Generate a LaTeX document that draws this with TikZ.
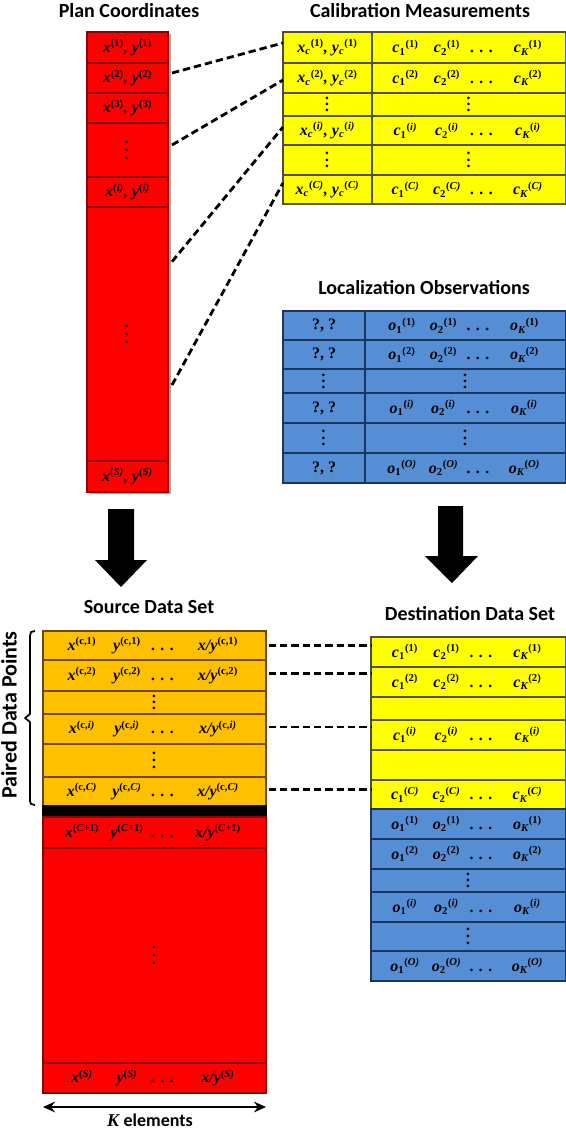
\documentclass[tikz,border=0pt]{standalone}
\usepackage{fontspec}
\setmainfont{Liberation Serif}
\newfontfamily\serfont{Liberation Serif}
\newfontfamily\calfont{Carlito}
\usetikzlibrary{arrows.meta}
\definecolor{redf}{HTML}{FF0000}
\definecolor{redl}{HTML}{8E0000}
\definecolor{yelf}{HTML}{FFFF00}
\definecolor{yell}{HTML}{50502A}
\definecolor{bluf}{HTML}{558ED5}
\definecolor{blul}{HTML}{17375E}
\definecolor{orf}{HTML}{FFC000}
\definecolor{orl}{HTML}{6B4A00}
\newcommand\vx[2]{#1\textsuperscript{\upshape(#2)}}
\newcommand\vsc[3]{#1\textsubscript{\upshape#2}\textsuperscript{\upshape(#3)}}
\newcommand\ddd{.\,\,.\,\,.}
\newcommand\vdt[1]{\vbox{\baselineskip#1\lineskiplimit0pt\hbox{.}\hbox{.}\hbox{.}}}
\newcommand\kvec[2]{\hspace*{5.25pt}\makebox[30.75pt]{\vsc{#1}{1}{#2}}\makebox[31.5pt]{\vsc{#1}{2}{#2}}\makebox[21pt]{\ddd}\makebox[48pt]{\vsc{#1}{\itshape K}{#2}}}
\newcommand\srcvec[1]{\hspace*{8.25pt}\makebox[33pt]{\vx{x}{#1}}\makebox[34.5pt]{\vx{y}{#1}}\makebox[19.5pt]{\ddd}\makebox[63pt]{\vx{x/y}{#1}}}
\tikzset{
  cellbase/.style={rectangle, inner sep=0pt, outer sep=0pt, line width=0.9pt,
    font=\serfont\fontsize{12}{14}\selectfont\bfseries\itshape},
  rcell/.style 2 args={cellbase, minimum width=#1*0.75pt, minimum height=#2*0.75pt, fill=redf, draw=redl},
  ycell/.style 2 args={cellbase, minimum width=#1*0.75pt, minimum height=#2*0.75pt, fill=yelf, draw=yell},
  bcell/.style 2 args={cellbase, minimum width=#1*0.75pt, minimum height=#2*0.75pt, fill=bluf, draw=blul},
  ocell/.style 2 args={cellbase, minimum width=#1*0.75pt, minimum height=#2*0.75pt, fill=orf, draw=orl},
  kcell/.style 2 args={cellbase, minimum width=#1*0.75pt, minimum height=#2*0.75pt, fill=black, draw=black},
  ttl/.style={inner sep=0pt, font=\calfont\bfseries\fontsize{15}{18}\selectfont},
  dashline/.style={line width=2.1pt, dash pattern=on 5.5pt off 3pt},
  bigarrow/.style={fill=black, draw=none},
}
\begin{document}
\begin{tikzpicture}[x=0.75pt, y=-0.75pt]
\useasboundingbox (0,0) rectangle (566,1128);
\fill[white] (0,0) rectangle (566,1128);

% ---------- Plan Coordinates ----------
\node[ttl] (tplan) at (129,11) {Plan Coordinates};
\fill[gray!70] (90,34) rectangle (171,494);
\node[rcell={81}{31}] (p1) at (127.5,47.5) {\vx{x}{1}, \vx{y}{1}};
\node[rcell={81}{30}] (p2) at (127.5,78) {\vx{x}{2}, \vx{y}{2}};
\node[rcell={81}{30}] (p3) at (127.5,108) {\vx{x}{3}, \vx{y}{3}};
\node[rcell={81}{54}] (pd1) at (127.5,150) {\vdt{6pt}};
\node[rcell={81}{30}] (pi) at (127.5,192) {\vx{x}{\itshape i}, \vx{y}{\itshape i}};
\node[rcell={81}{254}] (pd2) at (127.5,334) {\vdt{6pt}};
\node[rcell={81}{31}] (pS) at (127.5,476.5) {\vx{x}{\itshape S}, \vx{y}{\itshape S}};

% ---------- Calibration Measurements ----------
\node[ttl] (tcal) at (420,11) {Calibration Measurements};
\node[ycell={89}{31}] (cl1) at (327.5,47.5) {\vsc{x}{\itshape c}{1}, \vsc{y}{\itshape c}{1}};
\node[ycell={194}{31}] (cr1) at (469,47.5) {\kvec{c}{1}};
\node[ycell={89}{30}] (cl2) at (327.5,78) {\vsc{x}{\itshape c}{2}, \vsc{y}{\itshape c}{2}};
\node[ycell={194}{30}] (cr2) at (469,78) {\kvec{c}{2}};
\node[ycell={89}{23}] (cl3) at (327.5,104.5) {\vdt{4.5pt}};
\node[ycell={194}{23}] (cr3) at (469,104.5) {\vdt{4.5pt}};
\node[ycell={89}{29}] (cl4) at (327.5,130.5) {\vsc{x}{\itshape c}{\itshape i}, \vsc{y}{\itshape c}{\itshape i}};
\node[ycell={194}{29}] (cr4) at (469,130.5) {\kvec{c}{\itshape i}};
\node[ycell={89}{30}] (cl5) at (327.5,160) {\vdt{5pt}};
\node[ycell={194}{30}] (cr5) at (469,160) {\vdt{5pt}};
\node[ycell={89}{29}] (cl6) at (327.5,189.5) {\vsc{x}{\itshape c}{\itshape C}, \vsc{y}{\itshape c}{\itshape C}};
\node[ycell={194}{29}] (cr6) at (469,189.5) {\kvec{c}{\itshape C}};

% ---------- Localization Observations ----------
\node[ttl] (tloc) at (424,288) {Localization Observations};
\node[bcell={82}{29}] (ol1) at (324,325.5) {\upshape ?, ?};
\node[bcell={201}{29}] (or1) at (465.5,325.5) {\kvec{o}{1}};
\node[bcell={82}{29}] (ol2) at (324,354.5) {\upshape ?, ?};
\node[bcell={201}{29}] (or2) at (465.5,354.5) {\kvec{o}{2}};
\node[bcell={82}{24}] (ol3) at (324,381) {\vdt{4.5pt}};
\node[bcell={201}{24}] (or3) at (465.5,381) {\vdt{4.5pt}};
\node[bcell={82}{30}] (ol4) at (324,408) {\upshape ?, ?};
\node[bcell={201}{30}] (or4) at (465.5,408) {\kvec{o}{\itshape i}};
\node[bcell={82}{30}] (ol5) at (324,438) {\vdt{5pt}};
\node[bcell={201}{30}] (or5) at (465.5,438) {\vdt{5pt}};
\node[bcell={82}{30}] (ol6) at (324,468) {\upshape ?, ?};
\node[bcell={201}{30}] (or6) at (465.5,468) {\kvec{o}{\itshape O}};

% ---------- dashed links (top) ----------
\draw[dashline] ([xshift=3pt,yshift=3.75pt]p2.east) -- ([yshift=3.4pt]cl1.west);
\draw[dashline] ([xshift=3pt,yshift=3.75pt]pd1.east) -- ([yshift=-1.5pt]cl2.west);
\draw[dashline] ([xshift=3pt,yshift=-41pt]pd2.north east) -- ([yshift=2.6pt]cl4.west);
\draw[dashline] ([xshift=3pt,yshift=-133.5pt]pd2.north east) -- ([yshift=4.9pt]cl6.west);

% ---------- big arrows ----------
\fill[bigarrow] (108,509) -- (134,509) -- (134,560) -- (147,560) -- (121,587) -- (95,560) -- (108,560) -- cycle;
\fill[bigarrow] (438,506) -- (463,506) -- (463,556) -- (478,556) -- (452,583) -- (425,556) -- (438,556) -- cycle;

% ---------- Source Data Set ----------
\node[ttl] (tsrc) at (149,607) {Source Data Set};
\node[ocell={223}{29}] (s1) at (154.5,645.5) {\srcvec{\upshape c,1}};
\node[ocell={223}{31}] (s2) at (154.5,675.5) {\srcvec{\upshape c,2}};
\node[ocell={223}{23}] (s3) at (154.5,702.5) {\vdt{4.5pt}};
\node[ocell={223}{30}] (s4) at (154.5,729) {\srcvec{\upshape c,\itshape i}};
\node[ocell={223}{33}] (s5) at (154.5,760.5) {\vdt{5.5pt}};
\node[ocell={223}{29}] (s6) at (154.5,791.5) {\srcvec{\upshape c,\itshape C}};
\node[kcell={223}{11}] (sbar) at (154.5,811.5) {};
\node[rcell={223}{31}] (s7) at (154.5,832.5) {\srcvec{\itshape C\upshape+1}};
\node[rcell={223}{215}] (s8) at (154.5,955.5) {\vdt{6pt}};
\node[rcell={223}{30}] (s9) at (154.5,1078) {\srcvec{\itshape S}};

% bracket and label
\draw[line width=1.3pt, line join=round] (35,631) -- (31,632) -- (30,636) -- (30,714) -- (25,718) -- (30,722) -- (30,801) -- (31,804) -- (35,805);
\node[ttl, rotate=90, font=\calfont\bfseries\fontsize{16.5}{19}\selectfont] (tpair) at (9,715) {Paired Data Points};

% K elements
\coordinate (ka) at (43,1107);
\coordinate (kb) at (266,1107);
\draw[line width=1.4pt, {Stealth[length=9pt,width=8pt]}-{Stealth[length=9pt,width=8pt]}] (ka) -- (kb);
\node[inner sep=0pt, anchor=north] (klab) at (150,1114) {\fontsize{13.5}{16}\selectfont\bfseries{\serfont\itshape K}\ \calfont elements};

% ---------- Destination Data Set ----------
\node[ttl] (tdst) at (470,614) {Destination Data Set};
\node[ycell={195}{30}] (d1) at (468.5,652) {\kvec{c}{1}};
\node[ycell={195}{30}] (d2) at (468.5,682) {\kvec{c}{2}};
\node[ycell={195}{23}] (d3) at (468.5,708.5) {};
\node[ycell={195}{30}] (d4) at (468.5,735) {\kvec{c}{\itshape i}};
\node[ycell={195}{30}] (d5) at (468.5,765) {};
\node[ycell={195}{29}] (d6) at (468.5,794.5) {\kvec{c}{\itshape C}};
\node[bcell={195}{30}] (d7) at (468.5,824) {\kvec{o}{1}};
\node[bcell={195}{30}] (d8) at (468.5,854) {\kvec{o}{2}};
\node[bcell={195}{23}] (d9) at (468.5,880.5) {\vdt{4.5pt}};
\node[bcell={195}{30}] (d10) at (468.5,907) {\kvec{o}{\itshape i}};
\node[bcell={195}{29}] (d11) at (468.5,936.5) {\vdt{5pt}};
\node[bcell={195}{30}] (d12) at (468.5,966) {\kvec{o}{\itshape O}};

% ---------- dashed links (bottom) ----------
\draw[dashline] ([xshift=2pt]s1.east) -- (s1.east -| d1.west);
\draw[dashline] ([xshift=2pt,yshift=1.5pt]s2.east) -- ([yshift=1.5pt]s2.east -| d2.west);
\draw[dashline] ([xshift=2pt,yshift=1.5pt]s4.east) -- ([yshift=1.5pt]s4.east -| d4.west);
\draw[dashline] ([xshift=2pt,yshift=1.8pt]s6.east) -- ([yshift=1.8pt]s6.east -| d6.west);
\end{tikzpicture}
\end{document}
